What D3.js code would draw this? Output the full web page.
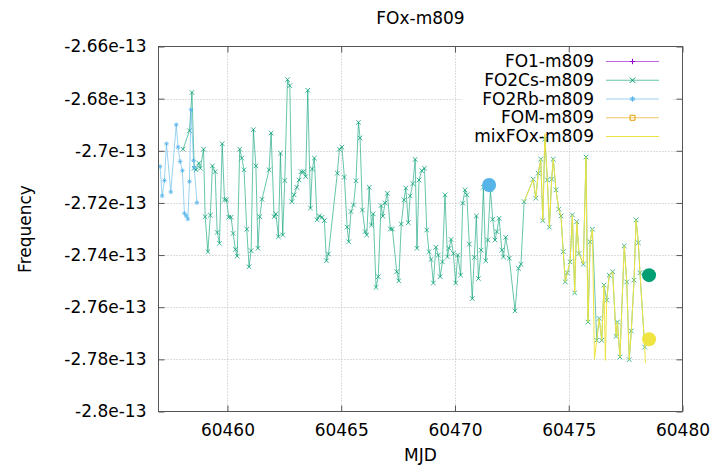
<!DOCTYPE html>
<html>
<head>
<meta charset="utf-8">
<script src="https://cdn.jsdelivr.net/npm/d3@7"></script>
<style>
body { margin: 0; background: #fff; }
text { font-family: "DejaVu Sans", sans-serif; font-size: 17px; fill: #000; }
</style>
</head>
<body>
<svg id="chart" width="711" height="465"></svg>
<script>
// ---- data (MJD, frequency) ----
var seriesNames = ['FO1-m809', 'FO2Cs-m809', 'FO2Rb-m809', 'FOM-m809', 'mixFOx-m809'];

var fo1 = [];
var fom = [];

var fo2rb = [
	[60457.04,-2.7060e-13],[60457.13,-2.7173e-13],[60457.23,-2.7114e-13],[60457.32,-2.6973e-13],
	[60457.51,-2.7158e-13],[60457.75,-2.6900e-13],[60457.83,-2.6986e-13],[60457.92,-2.7041e-13],
	[60458.02,-2.7076e-13],[60458.11,-2.7240e-13],[60458.19,-2.7250e-13],[60458.26,-2.7262e-13],
	[60458.33,-2.7118e-13],[60458.40,-2.6842e-13],[60458.51,-2.7037e-13],[60458.54,-2.7065e-13],
	[60458.66,-2.7199e-13]
];

var fo2cs = [
	[60458.05,-2.6994e-13],[60458.33,-2.6923e-13],[60458.44,-2.6776e-13],[60458.54,-2.7067e-13],
	[60458.62,-2.7073e-13],[60458.74,-2.7047e-13],[60458.81,-2.7067e-13],[60458.95,-2.6994e-13],
	[60459.02,-2.7253e-13],[60459.14,-2.7387e-13],[60459.25,-2.7247e-13],[60459.34,-2.7058e-13],
	[60459.46,-2.7080e-13],[60459.55,-2.7313e-13],[60459.65,-2.7355e-13],[60459.77,-2.6973e-13],
	[60459.87,-2.7188e-13],[60459.96,-2.7188e-13],[60460.06,-2.7255e-13],[60460.16,-2.7255e-13],
	[60460.25,-2.7317e-13],[60460.35,-2.7378e-13],[60460.43,-2.7404e-13],[60460.54,-2.6994e-13],
	[60460.63,-2.7028e-13],[60460.73,-2.7073e-13],[60460.85,-2.7301e-13],[60460.95,-2.7445e-13],
	[60461.04,-2.7383e-13],[60461.14,-2.6919e-13],[60461.25,-2.7058e-13],[60461.34,-2.7374e-13],
	[60461.42,-2.7253e-13],[60461.52,-2.7186e-13],[60461.83,-2.7073e-13],[60461.92,-2.6932e-13],
	[60462.05,-2.7253e-13],[60462.13,-2.7242e-13],[60462.24,-2.7330e-13],[60462.33,-2.7009e-13],
	[60462.43,-2.7323e-13],[60462.52,-2.7114e-13],[60462.64,-2.6727e-13],[60462.74,-2.6750e-13],
	[60462.83,-2.7195e-13],[60462.93,-2.7169e-13],[60463.05,-2.7140e-13],[60463.15,-2.7112e-13],
	[60463.24,-2.7080e-13],[60463.34,-2.7080e-13],[60463.44,-2.7099e-13],[60463.53,-2.6768e-13],
	[60463.65,-2.7220e-13],[60463.73,-2.7070e-13],[60463.82,-2.7028e-13],[60463.94,-2.7265e-13],
	[60464.04,-2.7250e-13],[60464.16,-2.7255e-13],[60464.26,-2.7268e-13],[60464.35,-2.7422e-13],
	[60464.44,-2.7396e-13],[60464.83,-2.7086e-13],[60464.92,-2.6994e-13],[60465.03,-2.6986e-13],
	[60465.14,-2.7101e-13],[60465.26,-2.7293e-13],[60465.33,-2.7349e-13],[60465.43,-2.7233e-13],
	[60465.54,-2.7208e-13],[60465.65,-2.7115e-13],[60465.76,-2.6891e-13],[60465.83,-2.6951e-13],
	[60465.93,-2.7227e-13],[60466.05,-2.7310e-13],[60466.12,-2.7323e-13],[60466.23,-2.7140e-13],
	[60466.33,-2.7285e-13],[60466.41,-2.7242e-13],[60466.53,-2.7524e-13],[60466.63,-2.7483e-13],
	[60466.75,-2.7210e-13],[60466.83,-2.7251e-13],[60466.93,-2.7200e-13],[60467.03,-2.7163e-13],
	[60467.16,-2.7300e-13],[60467.25,-2.7300e-13],[60467.44,-2.7464e-13],[60467.53,-2.7499e-13],
	[60467.64,-2.7281e-13],[60467.76,-2.7188e-13],[60467.84,-2.7143e-13],[60467.95,-2.7276e-13],
	[60468.03,-2.7173e-13],[60468.15,-2.7126e-13],[60468.25,-2.7033e-13],[60468.33,-2.7374e-13],
	[60468.42,-2.7112e-13],[60468.54,-2.7076e-13],[60468.66,-2.7067e-13],[60468.76,-2.7304e-13],
	[60468.86,-2.7387e-13],[60468.95,-2.7417e-13],[60469.05,-2.7507e-13],[60469.16,-2.7370e-13],
	[60469.27,-2.7400e-13],[60469.35,-2.7483e-13],[60469.45,-2.7426e-13],[60469.56,-2.7169e-13],
	[60469.67,-2.7407e-13],[60469.74,-2.7374e-13],[60469.83,-2.7340e-13],[60469.93,-2.7394e-13],
	[60470.03,-2.7507e-13],[60470.12,-2.7400e-13],[60470.25,-2.7477e-13],[60470.34,-2.7201e-13],
	[60470.44,-2.7150e-13],[60470.52,-2.7169e-13],[60470.63,-2.7358e-13],[60470.76,-2.7567e-13],
	[60470.85,-2.7409e-13],[60470.94,-2.7250e-13],[60471.03,-2.7490e-13],[60471.15,-2.7381e-13],
	[60471.25,-2.7140e-13],[60471.35,-2.7422e-13],[60471.44,-2.7342e-13],[60471.56,-2.7150e-13],
	[60471.66,-2.7263e-13],[60471.76,-2.7342e-13],[60471.84,-2.7310e-13],[60471.94,-2.7259e-13],
	[60472.06,-2.7381e-13],[60472.13,-2.7407e-13],[60472.23,-2.7332e-13],[60472.39,-2.7412e-13],
	[60472.64,-2.7614e-13],[60472.79,-2.7451e-13],[60472.90,-2.7435e-13],[60473.04,-2.7195e-13],
	[60473.44,-2.7109e-13],[60473.55,-2.7182e-13],[60473.66,-2.7086e-13],[60473.77,-2.7032e-13],
	[60473.86,-2.7268e-13],[60473.95,-2.6955e-13],[60474.06,-2.7112e-13],[60474.15,-2.7293e-13],
	[60474.25,-2.7109e-13],[60474.32,-2.7032e-13],[60474.44,-2.7150e-13],[60474.56,-2.7224e-13],
	[60474.66,-2.7250e-13],[60474.76,-2.7387e-13],[60474.85,-2.7503e-13],[60474.94,-2.7468e-13],
	[60475.06,-2.7426e-13],[60475.16,-2.7246e-13],[60475.26,-2.7545e-13],[60475.35,-2.7272e-13],
	[60475.45,-2.7394e-13],[60475.64,-2.7435e-13],[60475.76,-2.7024e-13],[60475.85,-2.7657e-13],
	[60475.94,-2.7349e-13],[60476.04,-2.7301e-13],[60476.23,-2.7727e-13],[60476.34,-2.7643e-13],
	[60476.45,-2.7727e-13],[60476.55,-2.7515e-13],[60476.67,-2.7573e-13],[60476.78,-2.7477e-13],
	[60476.93,-2.7464e-13],[60477.08,-2.7712e-13],[60477.14,-2.7657e-13],[60477.25,-2.7791e-13],
	[60477.44,-2.7365e-13],[60477.55,-2.7503e-13],[60477.66,-2.7801e-13],[60477.75,-2.7691e-13],
	[60477.87,-2.7496e-13],[60477.96,-2.7265e-13],[60478.06,-2.7353e-13],[60478.13,-2.7468e-13],
	[60478.34,-2.7753e-13]
];

var mixfox = [
	[60473.04,-2.7195e-13],[60473.44,-2.7109e-13],[60473.55,-2.7182e-13],[60473.66,-2.7086e-13],
	[60473.77,-2.7032e-13],[60473.86,-2.7268e-13],[60473.95,-2.6935e-13],[60474.06,-2.7112e-13],
	[60474.15,-2.7293e-13],[60474.25,-2.7109e-13],[60474.32,-2.7032e-13],[60474.44,-2.7150e-13],
	[60474.56,-2.7224e-13],[60474.66,-2.7250e-13],[60474.76,-2.7387e-13],[60474.85,-2.7503e-13],
	[60474.94,-2.7468e-13],[60475.06,-2.7426e-13],[60475.16,-2.7246e-13],[60475.26,-2.7545e-13],
	[60475.35,-2.7272e-13],[60475.45,-2.7394e-13],[60475.64,-2.7435e-13],[60475.76,-2.7024e-13],
	[60475.80,-2.7381e-13],[60475.85,-2.7657e-13],[60475.94,-2.7349e-13],[60476.04,-2.7301e-13],
	[60476.13,-2.7800e-13],[60476.23,-2.7727e-13],[60476.34,-2.7643e-13],[60476.45,-2.7727e-13],
	[60476.55,-2.7515e-13],[60476.61,-2.7804e-13],[60476.67,-2.7573e-13],[60476.78,-2.7477e-13],
	[60476.93,-2.7464e-13],[60477.08,-2.7712e-13],[60477.14,-2.7657e-13],[60477.25,-2.7791e-13],
	[60477.44,-2.7365e-13],[60477.55,-2.7503e-13],[60477.66,-2.7801e-13],[60477.75,-2.7691e-13],
	[60477.87,-2.7496e-13],[60477.96,-2.7265e-13],[60478.06,-2.7353e-13],[60478.13,-2.7468e-13],
	[60478.34,-2.7753e-13],[60478.37,-2.7815e-13]
];

// latest value of each clock, drawn as a big dot
var lastNames = ['FO2Rb-m809', 'FO2Cs-m809', 'mixFOx-m809'];
var lastMjd = [60471.50, 60478.53, 60478.53];
var lastFreq = [-2.7131e-13, -2.7477e-13, -2.7723e-13];

var xDomain = [60456.97, 60480];
var yDomain = [-2.8e-13, -2.66e-13];
var xTicks = [60460, 60465, 60470, 60475, 60480];
var yTicks = [-2.66e-13, -2.68e-13, -2.7e-13, -2.72e-13, -2.74e-13, -2.76e-13, -2.78e-13, -2.8e-13];
var yTickLabels = ['-2.66e-13', '-2.68e-13', '-2.7e-13', '-2.72e-13', '-2.74e-13', '-2.76e-13', '-2.78e-13', '-2.8e-13'];

// ---- styles ----
var style = {
	'FO1-m809':    {color: '#9400d3', marker: 'plus', alpha: 0.6},
	'FO2Cs-m809':  {color: '#009e73', marker: 'cross', alpha: 0.6},
	'FO2Rb-m809':  {color: '#56b4e9', marker: 'star', alpha: 0.6},
	'FOM-m809':    {color: '#e69f00', marker: 'square', alpha: 0.6},
	'mixFOx-m809': {color: '#f0e442', marker: null, alpha: 1}
};
var seriesData = {
	'FO1-m809': fo1, 'FO2Cs-m809': fo2cs, 'FO2Rb-m809': fo2rb,
	'FOM-m809': fom, 'mixFOx-m809': mixfox
};

var W = 711, H = 465;
var L = 158.5, R = 682.5, T = 46.5, B = 411.5;
var BORDER = '#555';

var svg = d3.select('#chart');

var x = d3.scaleLinear().domain(xDomain).range([L, R]);
var y = d3.scaleLinear().domain(yDomain).range([B, T]);

function markerPath(type, s) {
	if (type == 'plus') return 'M'+(-s)+',0H'+s+'M0,'+(-s)+'V'+s;
	if (type == 'cross') return 'M'+(-s)+','+(-s)+'L'+s+','+s+'M'+(-s)+','+s+'L'+s+','+(-s);
	if (type == 'star') return markerPath('plus', s) + markerPath('cross', s*0.75);
	if (type == 'square') return 'M'+(-s)+','+(-s)+'H'+s+'V'+s+'H'+(-s)+'Z';
	return '';
}

// grid
var grid = svg.append('g').attr('stroke', '#bbb').attr('stroke-width', 1).attr('stroke-dasharray', '1,2');
grid.selectAll('.gx').data(xTicks.slice(0, -1)).enter().append('line')
	.attr('x1', function (d) { return Math.round(x(d)) + 0.5; })
	.attr('x2', function (d) { return Math.round(x(d)) + 0.5; })
	.attr('y1', T).attr('y2', B);
grid.selectAll('.gy').data(yTicks.slice(1, -1)).enter().append('line')
	.attr('y1', function (d) { return Math.round(y(d)) + 0.5; })
	.attr('y2', function (d) { return Math.round(y(d)) + 0.5; })
	.attr('x1', L).attr('x2', R);

// legend (opaque box, under the data)
var legX = 594, legLine = [606, 659], legTop = 61, legStep = 18.75;
svg.append('rect').attr('x', 462).attr('y', T + 1).attr('width', 210).attr('height', 90).attr('fill', '#fff');
var leg = svg.append('g').selectAll('g').data(seriesNames).enter().append('g')
	.attr('transform', function (d, i) { return 'translate(0,' + (legTop + i*legStep) + ')'; });
leg.append('text').attr('x', legX).attr('y', 6).attr('text-anchor', 'end').text(function (d) { return d; });
leg.append('line').attr('x1', legLine[0]).attr('x2', legLine[1]).attr('y1', 0.5).attr('y2', 0.5)
	.attr('stroke', function (d) { return style[d].color; })
	.attr('stroke-opacity', function (d) { return style[d].alpha; });
leg.append('path').attr('transform', 'translate(' + ((legLine[0]+legLine[1])/2) + ',0.5)')
	.attr('d', function (d) { return markerPath(style[d].marker, style[d].marker == 'square' ? 2.5 : 2.7); })
	.attr('fill', 'none').attr('stroke', function (d) { return style[d].color; });

// data
svg.append('clipPath').attr('id', 'clip').append('rect')
	.attr('x', L).attr('y', T).attr('width', R - L).attr('height', B - T);
var plot = svg.append('g').attr('clip-path', 'url(#clip)');

var line = d3.line().x(function (d) { return x(d[0]); }).y(function (d) { return y(d[1]); });

seriesNames.forEach(function (name) {
	var data = seriesData[name], st = style[name];
	if (!data.length) return;
	var g = plot.append('g');
	g.append('path').datum(data).attr('d', line)
		.attr('fill', 'none').attr('stroke', st.color).attr('stroke-width', 1)
		.attr('stroke-opacity', st.alpha);
	if (!st.marker) return;
	g.selectAll('.pt').data(data).enter().append('path')
		.attr('transform', function (d) { return 'translate(' + x(d[0]) + ',' + y(d[1]) + ')'; })
		.attr('d', markerPath(st.marker, 2.3))
		.attr('fill', 'none').attr('stroke', st.color).attr('stroke-width', 1).attr('stroke-opacity', 0.75);
});

plot.selectAll('.last').data(lastNames).enter().append('circle')
	.attr('cx', function (d, i) { return x(lastMjd[i]); })
	.attr('cy', function (d, i) { return y(lastFreq[i]); })
	.attr('r', 7)
	.attr('fill', function (d) { return style[d].color; });

// axes
function styleAxis(g) {
	g.select('.domain').remove();
	g.selectAll('.tick line').attr('stroke', BORDER);
	g.selectAll('.tick text').attr('fill', '#000').style('font-size', '17px').style('font-family', '"DejaVu Sans", sans-serif');
}
svg.append('g').attr('transform', 'translate(' + L + ',0)')
	.call(d3.axisLeft(y).tickValues(yTicks).tickFormat(function (d, i) { return yTickLabels[i]; })
		.tickSizeInner(-6).tickSizeOuter(0).tickPadding(12))
	.call(styleAxis);
svg.append('g').attr('transform', 'translate(' + R + ',0)')
	.call(d3.axisRight(y).tickValues(yTicks).tickFormat('').tickSizeInner(-6).tickSizeOuter(0))
	.call(styleAxis);
svg.append('g').attr('transform', 'translate(0,' + B + ')')
	.call(d3.axisBottom(x).tickValues(xTicks).tickFormat(d3.format('d')).tickSizeInner(-6).tickSizeOuter(0).tickPadding(12))
	.call(styleAxis);
svg.append('g').attr('transform', 'translate(0,' + T + ')')
	.call(d3.axisTop(x).tickValues(xTicks).tickFormat('').tickSizeInner(-6).tickSizeOuter(0))
	.call(styleAxis);

svg.append('rect').attr('x', L).attr('y', T).attr('width', R - L).attr('height', B - T)
	.attr('fill', 'none').attr('stroke', BORDER).attr('stroke-width', 1);

// titles
svg.append('text').attr('x', (L + R)/2).attr('y', 24).attr('text-anchor', 'middle').text('FOx-m809');
svg.append('text').attr('x', (L + R)/2).attr('y', 461).attr('text-anchor', 'middle').text('MJD');
svg.append('text').attr('transform', 'translate(31,229) rotate(-90)').attr('text-anchor', 'middle').text('Frequency');
</script>
</body>
</html>
